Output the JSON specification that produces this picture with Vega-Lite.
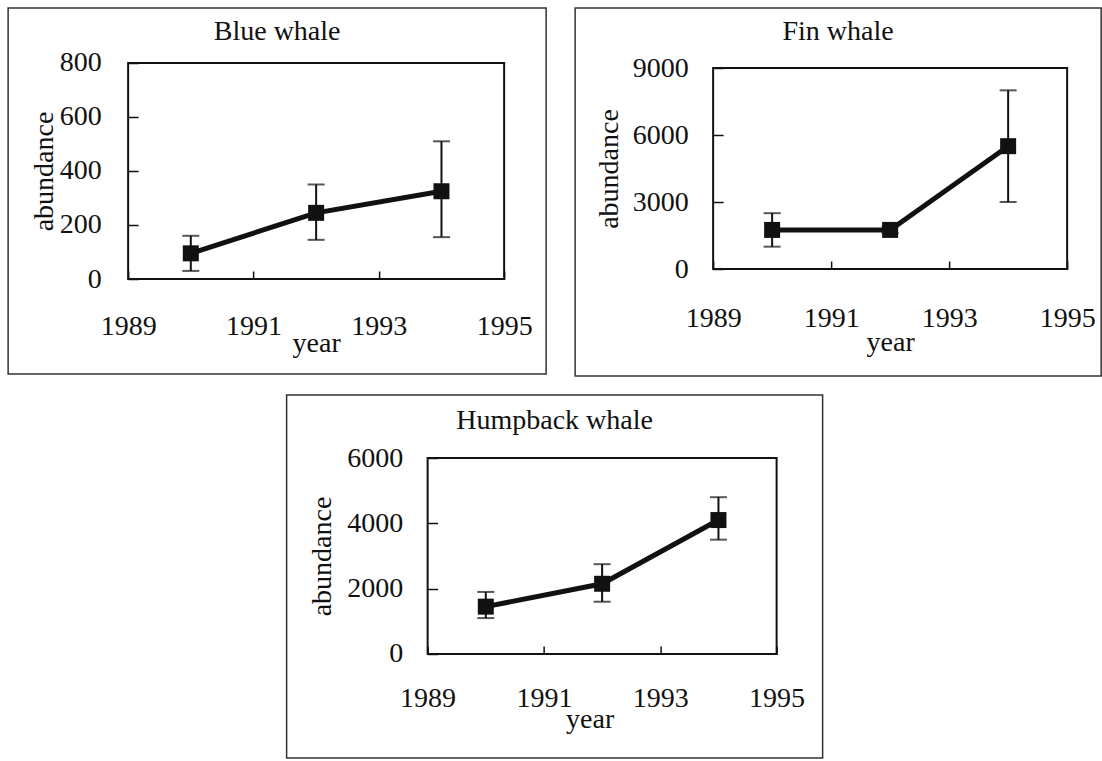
{
  "$schema": "https://vega.github.io/schema/vega-lite/v6.json",
  "background": "white",
  "padding": {"left": 7, "top": 7, "right": 0, "bottom": 0},
  "datasets": {
    "blue": [
      {"year": 1990, "abundance": 95, "lo": 30, "hi": 160},
      {"year": 1992, "abundance": 245, "lo": 145, "hi": 350},
      {"year": 1994, "abundance": 325, "lo": 155, "hi": 510}
    ],
    "fin": [
      {"year": 1990, "abundance": 1750, "lo": 1000, "hi": 2500},
      {"year": 1992, "abundance": 1750, "lo": 1600, "hi": 1900},
      {"year": 1994, "abundance": 5500, "lo": 3000, "hi": 8000}
    ],
    "humpback": [
      {"year": 1990, "abundance": 1450, "lo": 1100, "hi": 1900},
      {"year": 1992, "abundance": 2150, "lo": 1600, "hi": 2750},
      {"year": 1994, "abundance": 4100, "lo": 3500, "hi": 4800}
    ]
  },
  "config": {
    "font": "Liberation Serif",
    "view": {"stroke": "#333", "strokeWidth": 1.5},
    "title": {"font": "Liberation Serif", "fontSize": 28, "fontWeight": "normal", "color": "#111", "anchor": "middle", "frame": "group", "baseline": "middle"},
    "axis": {
      "domain": false, "grid": false,
      "tickColor": "#111", "tickWidth": 1.5,
      "labelFont": "Liberation Serif", "labelFontSize": 28, "labelColor": "#111",
      "labelFlush": false, "labelOverlap": false, "labelBound": false,
      "titleFont": "Liberation Serif", "titleFontSize": 28, "titleFontWeight": "normal", "titleColor": "#111",
      "titleBaseline": "middle", "titleAlign": "center", "format": "d"
    },
    "axisX": {"labelBaseline": "middle", "tickSize": -8},
    "axisY": {"tickSize": -10, "titleAngle": -90}
  },
  "spacing": 17,
  "center": true,
  "vconcat": [
    {
      "spacing": 27,
      "hconcat": [
        {
          "width": 538, "height": 366,
          "title": {"text": "Blue whale", "offset": -38},
          "data": {"name": "blue"},
          "encoding": {
            "x": {"field": "year", "type": "quantitative",
                  "scale": {"domain": [1987.085, 1995.67], "nice": false, "zero": false},
                  "axis": {"title": "year", "values": [1989, 1991, 1993, 1995], "format": "d", "offset": -95, "labelPadding": 55, "titleX": 308, "titleY": 64}},
            "y": {"field": "abundance", "type": "quantitative",
                  "scale": {"domain": [-351.85, 1003.7], "nice": false, "zero": false},
                  "axis": {"title": "abundance", "values": [0, 200, 400, 600, 800], "format": "d", "offset": -120, "labelPadding": 37, "titleX": -84, "titleY": 163}}
          },
          "layer": [
            {"transform": [{"filter": "datum.year == 1990"}],
             "mark": {"type": "rect", "filled": false, "color": "#111", "strokeWidth": 2},
             "encoding": {"x": {"datum": 1989}, "x2": {"datum": 1995}, "y": {"datum": 0}, "y2": {"datum": 800}}},
            {"mark": {"type": "rule", "color": "#111", "strokeWidth": 2}, "encoding": {"y": {"field": "lo", "type": "quantitative"}, "y2": {"field": "hi"}}},
            {"mark": {"type": "tick", "orient": "horizontal", "color": "#111", "size": 17, "thickness": 2}, "encoding": {"y": {"field": "lo", "type": "quantitative"}}},
            {"mark": {"type": "tick", "orient": "horizontal", "color": "#111", "size": 17, "thickness": 2}, "encoding": {"y": {"field": "hi", "type": "quantitative"}}},
            {"mark": {"type": "line", "color": "#111", "strokeWidth": 5}},
            {"mark": {"type": "point", "shape": "square", "filled": true, "color": "#111", "opacity": 1, "size": 256}}
          ]
        },
        {
          "width": 526, "height": 368,
          "title": {"text": "Fin whale", "offset": -38},
          "data": {"name": "fin"},
          "encoding": {
            "x": {"field": "year", "type": "quantitative",
                  "scale": {"domain": [1986.661, 1995.576], "nice": false, "zero": false},
                  "axis": {"title": "year", "values": [1989, 1991, 1993, 1995], "format": "d", "offset": -107, "labelPadding": 57, "titleX": 315, "titleY": 73}},
            "y": {"field": "abundance", "type": "quantitative",
                  "scale": {"domain": [-4791, 11686.6], "nice": false, "zero": false},
                  "axis": {"title": "abundance", "values": [0, 3000, 6000, 9000], "format": "d", "offset": -138, "labelPadding": 35, "titleX": -104, "titleY": 160.5}}
          },
          "layer": [
            {"transform": [{"filter": "datum.year == 1990"}],
             "mark": {"type": "rect", "filled": false, "color": "#111", "strokeWidth": 2},
             "encoding": {"x": {"datum": 1989}, "x2": {"datum": 1995}, "y": {"datum": 0}, "y2": {"datum": 9000}}},
            {"mark": {"type": "rule", "color": "#111", "strokeWidth": 2}, "encoding": {"y": {"field": "lo", "type": "quantitative"}, "y2": {"field": "hi"}}},
            {"mark": {"type": "tick", "orient": "horizontal", "color": "#111", "size": 17, "thickness": 2}, "encoding": {"y": {"field": "lo", "type": "quantitative"}}},
            {"mark": {"type": "tick", "orient": "horizontal", "color": "#111", "size": 17, "thickness": 2}, "encoding": {"y": {"field": "hi", "type": "quantitative"}}},
            {"mark": {"type": "line", "color": "#111", "strokeWidth": 5}},
            {"mark": {"type": "point", "shape": "square", "filled": true, "color": "#111", "opacity": 1, "size": 256}}
          ]
        }
      ]
    },
    {
      "width": 536, "height": 363,
      "title": {"text": "Humpback whale", "offset": -40},
      "data": {"name": "humpback"},
      "encoding": {
        "x": {"field": "year", "type": "quantitative",
              "scale": {"domain": [1986.576, 1995.791], "nice": false, "zero": false},
              "axis": {"title": "year", "values": [1989, 1991, 1993, 1995], "format": "d", "offset": -104, "labelPadding": 52, "titleX": 303, "titleY": 65}},
        "y": {"field": "abundance", "type": "quantitative",
              "scale": {"domain": [-3183.7, 7928.6], "nice": false, "zero": false},
              "axis": {"title": "abundance", "values": [0, 2000, 4000, 6000], "format": "d", "offset": -141, "labelPadding": 35, "titleX": -105, "titleY": 161}}
      },
      "layer": [
        {"transform": [{"filter": "datum.year == 1990"}],
         "mark": {"type": "rect", "filled": false, "color": "#111", "strokeWidth": 2},
         "encoding": {"x": {"datum": 1989}, "x2": {"datum": 1995}, "y": {"datum": 0}, "y2": {"datum": 6000}}},
        {"mark": {"type": "rule", "color": "#111", "strokeWidth": 2}, "encoding": {"y": {"field": "lo", "type": "quantitative"}, "y2": {"field": "hi"}}},
        {"mark": {"type": "tick", "orient": "horizontal", "color": "#111", "size": 17, "thickness": 2}, "encoding": {"y": {"field": "lo", "type": "quantitative"}}},
        {"mark": {"type": "tick", "orient": "horizontal", "color": "#111", "size": 17, "thickness": 2}, "encoding": {"y": {"field": "hi", "type": "quantitative"}}},
        {"mark": {"type": "line", "color": "#111", "strokeWidth": 5}},
        {"mark": {"type": "point", "shape": "square", "filled": true, "color": "#111", "opacity": 1, "size": 256}}
      ]
    }
  ]
}
